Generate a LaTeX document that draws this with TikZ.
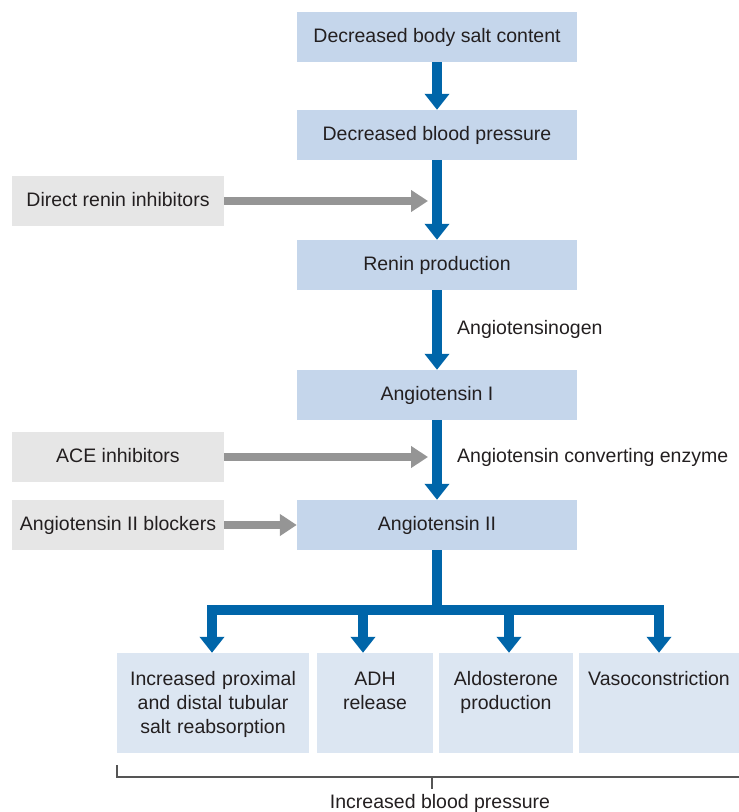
\documentclass[tikz,border=0pt]{standalone}
\usepackage{fontspec}
\setmainfont{Liberation Sans}
\usetikzlibrary{arrows.meta}
\definecolor{boxblue}{HTML}{C5D6EB}
\definecolor{boxpale}{HTML}{DCE6F2}
\definecolor{boxgray}{HTML}{E6E6E6}
\definecolor{flowblue}{HTML}{0065A9}
\definecolor{drugray}{HTML}{959595}
\definecolor{inkgray}{HTML}{231F20}
\definecolor{bracegray}{HTML}{555555}
\begin{document}
\begin{tikzpicture}[x=1pt, y=-1pt, line join=miter,
    font=\fontsize{19.5}{24}\selectfont, text=inkgray,
    mainbox/.style={fill=boxblue, minimum width=280pt, minimum height=50pt, inner sep=0pt, text height=14pt, text depth=4pt},
    drugbox/.style={fill=boxgray, minimum width=212pt, minimum height=50pt, inner sep=0pt, text height=14pt, text depth=4pt},
    effect/.style={fill=boxpale, inner sep=0pt, align=center, text height=32pt, text depth=68pt},
    flow/.style={draw=flowblue, line width=10pt, -{Triangle[width=24pt,length=16pt]}},
    block/.style={draw=drugray, line width=8pt, -{Triangle[width=21pt,length=17pt]}}]
                \useasboundingbox (0,0) rectangle (739,812);
                % main cascade
                \node[mainbox] (salt) at (437,37) {Decreased body salt content};
                \node[mainbox] (bp) at (437,135) {Decreased blood pressure};
                \node[mainbox] (renin) at (437,265) {Renin production};
                \node[mainbox] (ang1) at (437,395) {Angiotensin I};
                \node[mainbox] (ang2) at (437,525) {Angiotensin II};
                % drugs
                \node[drugbox] (dri) at (118,201) {Direct renin inhibitors};
                \node[drugbox] (ace) at (118,457) {ACE inhibitors};
                \node[drugbox] (arb) at (118,525) {Angiotensin II blockers};
                % effects
                \node[effect, text width=192pt] (tub) at (213,703) {Increased proximal\\and distal tubular\\salt reabsorption};
                \node[effect, text width=116pt] (adh) at (375,703) {ADH\\release};
                \node[effect, text width=134pt] (aldo) at (506,703) {Aldosterone\\production};
                \node[effect, text width=160pt] (vaso) at (659,703) {Vasoconstriction};
                \node[anchor=base west, inner sep=0pt] (agen) at (457,334) {Angiotensinogen};
                \node[anchor=base west, inner sep=0pt] (conv) at (457,462) {Angiotensin converting enzyme};
                \node[anchor=base, inner sep=0pt] (total) at (440,808) {Increased blood pressure};
                \draw[flow] (salt.south) -- (bp.north);
                \draw[flow] (bp.south) -- (renin.north);
                \draw[flow] (renin.south) -- (ang1.north);
                \draw[flow] (ang1.south) -- (ang2.north);
                \coordinate (split) at (437,610);
                \draw[draw=flowblue, line width=10pt] (ang2.south) -- (split);
                \foreach \n/\dx in {tub/-1,adh/-12,aldo/3,vaso/0} \draw[flow] (split) -| ([xshift=\dx pt]\n.north);
                \coordinate (drihit) at (428,201);
                \coordinate (acehit) at (428,457);
                \draw[block] (dri.east) -- (drihit);
                \draw[block] (ace.east) -- (acehit);
                \draw[block] (arb.east) -- (ang2.west);
                % bracket
                \coordinate (brmid) at (432,777);
                \draw[bracegray, line width=1.5pt] (tub.south west) ++(0,12) |- (739,777) (brmid) -- ++(0,12);
            \end{tikzpicture}
\end{document}
